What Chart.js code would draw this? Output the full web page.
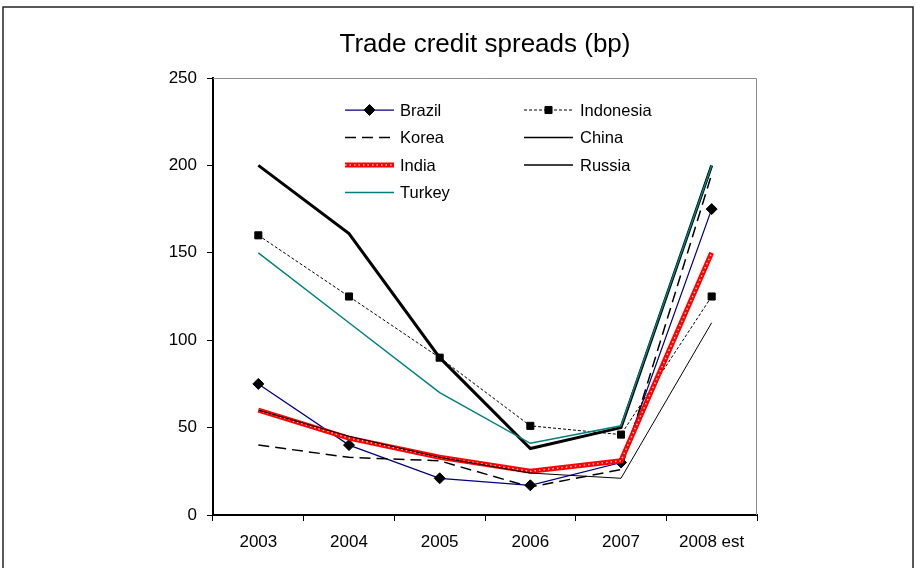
<!DOCTYPE html>
<html>
<head>
<meta charset="utf-8">
<title>Trade credit spreads</title>
<script src="https://cdn.jsdelivr.net/npm/chart.js@4.4.1/dist/chart.umd.min.js"></script>
<style>
  html, body { margin: 0; padding: 0; background: #fff; }
  #wrap { width: 916px; height: 568px; position: relative; }
</style>
</head>
<body>
<div id="wrap"><canvas id="c" width="916" height="568"></canvas></div>
<script>
// Categories and series (basis points)
const years = ['2003', '2004', '2005', '2006', '2007', '2008 est'];
const brazil    = [75, 40, 21, 17, 30, 175];
const indonesia = [160, 125, 90, 51, 46, 125];
const korea     = [40, 33, 31, 16, 26, 195];
const china     = [200, 161, 90, 38, 50, 200];
const india     = [60, 44, 33, 25, 31, 150];
const russia    = [60, 45, 33, 24, 21, 110];
const turkey    = [150, 110, 70, 41, 51, 200];
const yTicks    = [0, 50, 100, 150, 200, 250];
const chartTitle = 'Trade credit spreads (bp)';

const FONT = '"Liberation Sans", Arial, Helvetica, sans-serif';

function line(label, data, style) {
  return Object.assign({
    label, data,
    fill: false, tension: 0,
    pointRadius: 0, pointHoverRadius: 0,
    borderCapStyle: 'butt', borderJoinStyle: 'miter'
  }, style);
}

const datasets = [
  line('Brazil', brazil, { borderColor: '#000080', borderWidth: 1.25, pointStyle: 'rectRot', pointRadius: 5.5,
    pointBackgroundColor: '#000', pointBorderColor: '#000', pointBorderWidth: 1, order: 10 }),
  line('Indonesia', indonesia, { borderColor: '#000', borderWidth: 1, borderDash: [3, 2], pointStyle: 'rect', pointRadius: 5,
    pointBackgroundColor: '#000', pointBorderColor: '#000', pointBorderWidth: 1, order: 9 }),
  line('Korea', korea, { borderColor: '#000', borderWidth: 1.5, borderDash: [11, 6], order: 8 }),
  line('China', china, { borderColor: '#000', borderWidth: 3, legendWidth: 1.5, order: 7 }),
  line('India', india, { borderColor: '#ff0000', borderWidth: 5, order: 6 }),
  // white dotted core of the India line
  line('India', india, { borderColor: 'rgba(255,255,255,0.75)', borderWidth: 1.5, borderDash: [1.5, 3], order: 5, overlayFor: 'India' }),
  line('Russia', russia, { borderColor: '#000', borderWidth: 1, legendWidth: 1.5, order: 4 }),
  line('Turkey', turkey, { borderColor: '#008080', borderWidth: 1.5, order: 3 })
];

function strokeSample(ctx, ds, x0, x1, y) {
  ctx.save();
  ctx.strokeStyle = ds.borderColor;
  ctx.lineWidth = ds.legendWidth || ds.borderWidth;
  ctx.setLineDash(ds.borderDash || []);
  ctx.beginPath();
  ctx.moveTo(x0, y);
  ctx.lineTo(x1, y);
  ctx.stroke();
  ctx.restore();
}

const decorations = {
  id: 'decorations',
  beforeDraw(chart) {
    const ctx = chart.ctx;
    ctx.save();
    ctx.fillStyle = '#fff';
    ctx.fillRect(0, 0, chart.width, chart.height);
    // outer frame
    ctx.strokeStyle = '#222';
    ctx.lineWidth = 1.5;
    ctx.strokeRect(3, 7, 910, 600);
    ctx.restore();
  },
  beforeDatasetsDraw(chart) {
    const { ctx, chartArea: a } = chart;
    ctx.save();
    ctx.strokeStyle = '#8c8c8c';
    ctx.lineWidth = 1;
    ctx.beginPath();
    ctx.moveTo(a.left, a.top + 0.5);
    ctx.lineTo(a.right - 0.5, a.top + 0.5);
    ctx.lineTo(a.right - 0.5, a.bottom);
    ctx.stroke();
    ctx.restore();
  },
  afterDraw(chart) {
    const ctx = chart.ctx;
    const a = chart.chartArea;
    ctx.save();
    // title
    ctx.fillStyle = '#000';
    ctx.font = '26px ' + FONT;
    ctx.textAlign = 'center';
    ctx.textBaseline = 'middle';
    ctx.fillText(chartTitle, (a.left + a.right) / 2, 45);

    // legend: two columns, filled row by row
    const cols = [{ x0: 345, x1: 394, tx: 400 }, { x0: 524, x1: 573, tx: 580 }];
    const rowY = [110, 137.5, 165, 192.5];
    const entries = chart.data.datasets.filter(d => !d.overlayFor);
    ctx.font = '16.5px ' + FONT;
    ctx.textAlign = 'left';
    entries.forEach((ds, i) => {
      const c = cols[i % 2];
      const y = rowY[Math.floor(i / 2)];
      strokeSample(ctx, ds, c.x0, c.x1, y);
      chart.data.datasets.filter(d => d.overlayFor === ds.label)
        .forEach(o => strokeSample(ctx, o, c.x0, c.x1, y));
      if (ds.pointRadius > 0) {
        ctx.fillStyle = ds.pointBackgroundColor;
        ctx.strokeStyle = ds.pointBorderColor;
        ctx.setLineDash([]);
        Chart.helpers.drawPoint(ctx, { pointStyle: ds.pointStyle, radius: ds.pointRadius, borderWidth: ds.pointBorderWidth, rotation: 0 }, (c.x0 + c.x1) / 2, y);
      }
      ctx.fillStyle = '#000';
      ctx.fillText(ds.label, c.tx, y + 1);
    });
    ctx.restore();
  }
};

new Chart(document.getElementById('c'), {
  type: 'line',
  data: { labels: years, datasets },
  options: {
    responsive: false,
    animation: false,
    events: [],
    layout: { padding: { left: 0, right: 159, top: 78, bottom: 0 } },
    plugins: { legend: { display: false }, title: { display: false }, tooltip: { enabled: false } },
    scales: {
      x: {
        type: 'category',
        offset: true,
        grid: { offset: true, drawOnChartArea: false, drawTicks: true, tickLength: 6, color: '#000', lineWidth: 1 },
        border: { display: true, color: '#000', width: 2 },
        ticks: { color: '#000', font: { family: FONT, size: 17 }, padding: 11, maxRotation: 0, autoSkip: false },
        afterFit(s) { s.height = 53; }
      },
      y: {
        min: 0, max: 250,
        afterBuildTicks(s) { s.ticks = yTicks.map(v => ({ value: v })); },
        grid: { drawOnChartArea: false, drawTicks: true, tickLength: 6, color: '#000', lineWidth: 1 },
        border: { display: true, color: '#000', width: 2 },
        ticks: { color: '#000', font: { family: FONT, size: 17 }, padding: 10 },
        afterFit(s) { s.width = 213; }
      }
    }
  },
  plugins: [decorations]
});
</script>
</body>
</html>
